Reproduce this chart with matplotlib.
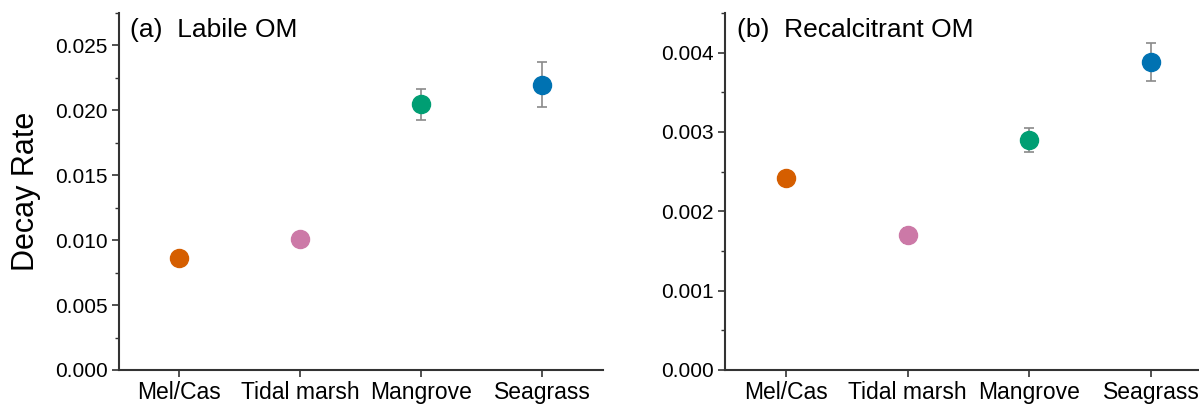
import numpy as np
import matplotlib
matplotlib.use('Agg')
import matplotlib.pyplot as plt
from matplotlib.ticker import MultipleLocator, FormatStrFormatter

plt.rcParams['font.family'] = ['Liberation Sans', 'DejaVu Sans']

# data
sites = ['Mel/Cas', 'Tidal marsh', 'Mangrove', 'Seagrass']
colors = ['#D55E00', '#CC79A7', '#009E73', '#0072B2']

labile = [0.00860, 0.01010, 0.02046, 0.02198]
labile_err = [0.00030, 0.00030, 0.00118, 0.00173]

recalc = [0.002414, 0.001696, 0.00290, 0.003875]
recalc_err = [0.00006, 0.00009, 0.00015, 0.00024]

fig = plt.figure(figsize=(11.99, 4.04), dpi=100)
ax1 = fig.add_axes([0.0989, 0.0842, 0.404, 0.884])
ax2 = fig.add_axes([0.6047, 0.0842, 0.406, 0.884])

x = np.arange(len(sites))

def draw(ax, vals, errs, ymax, major, title):
    for i in range(len(sites)):
        ax.errorbar(x[i], vals[i], yerr=errs[i], fmt='none', ecolor='#8a8a8a',
                    elinewidth=1.2, capsize=3.5, capthick=1.2, zorder=2)
        ax.plot(x[i], vals[i], 'o', ms=13, color=colors[i], mec=colors[i], zorder=3)
    ax.set_xlim(-0.5, 3.5)
    ax.set_ylim(0, ymax)
    ax.set_xticks(x)
    ax.set_xticklabels(sites, fontsize=16.5)
    ax.yaxis.set_major_locator(MultipleLocator(major))
    ax.yaxis.set_minor_locator(MultipleLocator(major / 2))
    ax.yaxis.set_major_formatter(FormatStrFormatter('%.3f'))
    ax.tick_params(axis='y', labelsize=15, length=5, width=1.2, color='#333333', pad=3)
    ax.tick_params(axis='y', which='minor', length=3, width=1.0, color='#333333')
    ax.tick_params(axis='x', length=5, width=1.2, color='#333333', pad=3)
    for s in ['top', 'right']:
        ax.spines[s].set_visible(False)
    for s in ['left', 'bottom']:
        ax.spines[s].set_linewidth(1.5)
        ax.spines[s].set_color('#333333')
    ax.text(0.024, 0.985, title, transform=ax.transAxes, fontsize=19,
            ha='left', va='top')

draw(ax1, labile, labile_err, 0.0275, 0.005, '(a)  Labile OM')
draw(ax2, recalc, recalc_err, 0.0045, 0.001, '(b)  Recalcitrant OM')

ax1.set_ylabel('Decay Rate', fontsize=22, labelpad=10)

fig.savefig('out.png', dpi=100)
